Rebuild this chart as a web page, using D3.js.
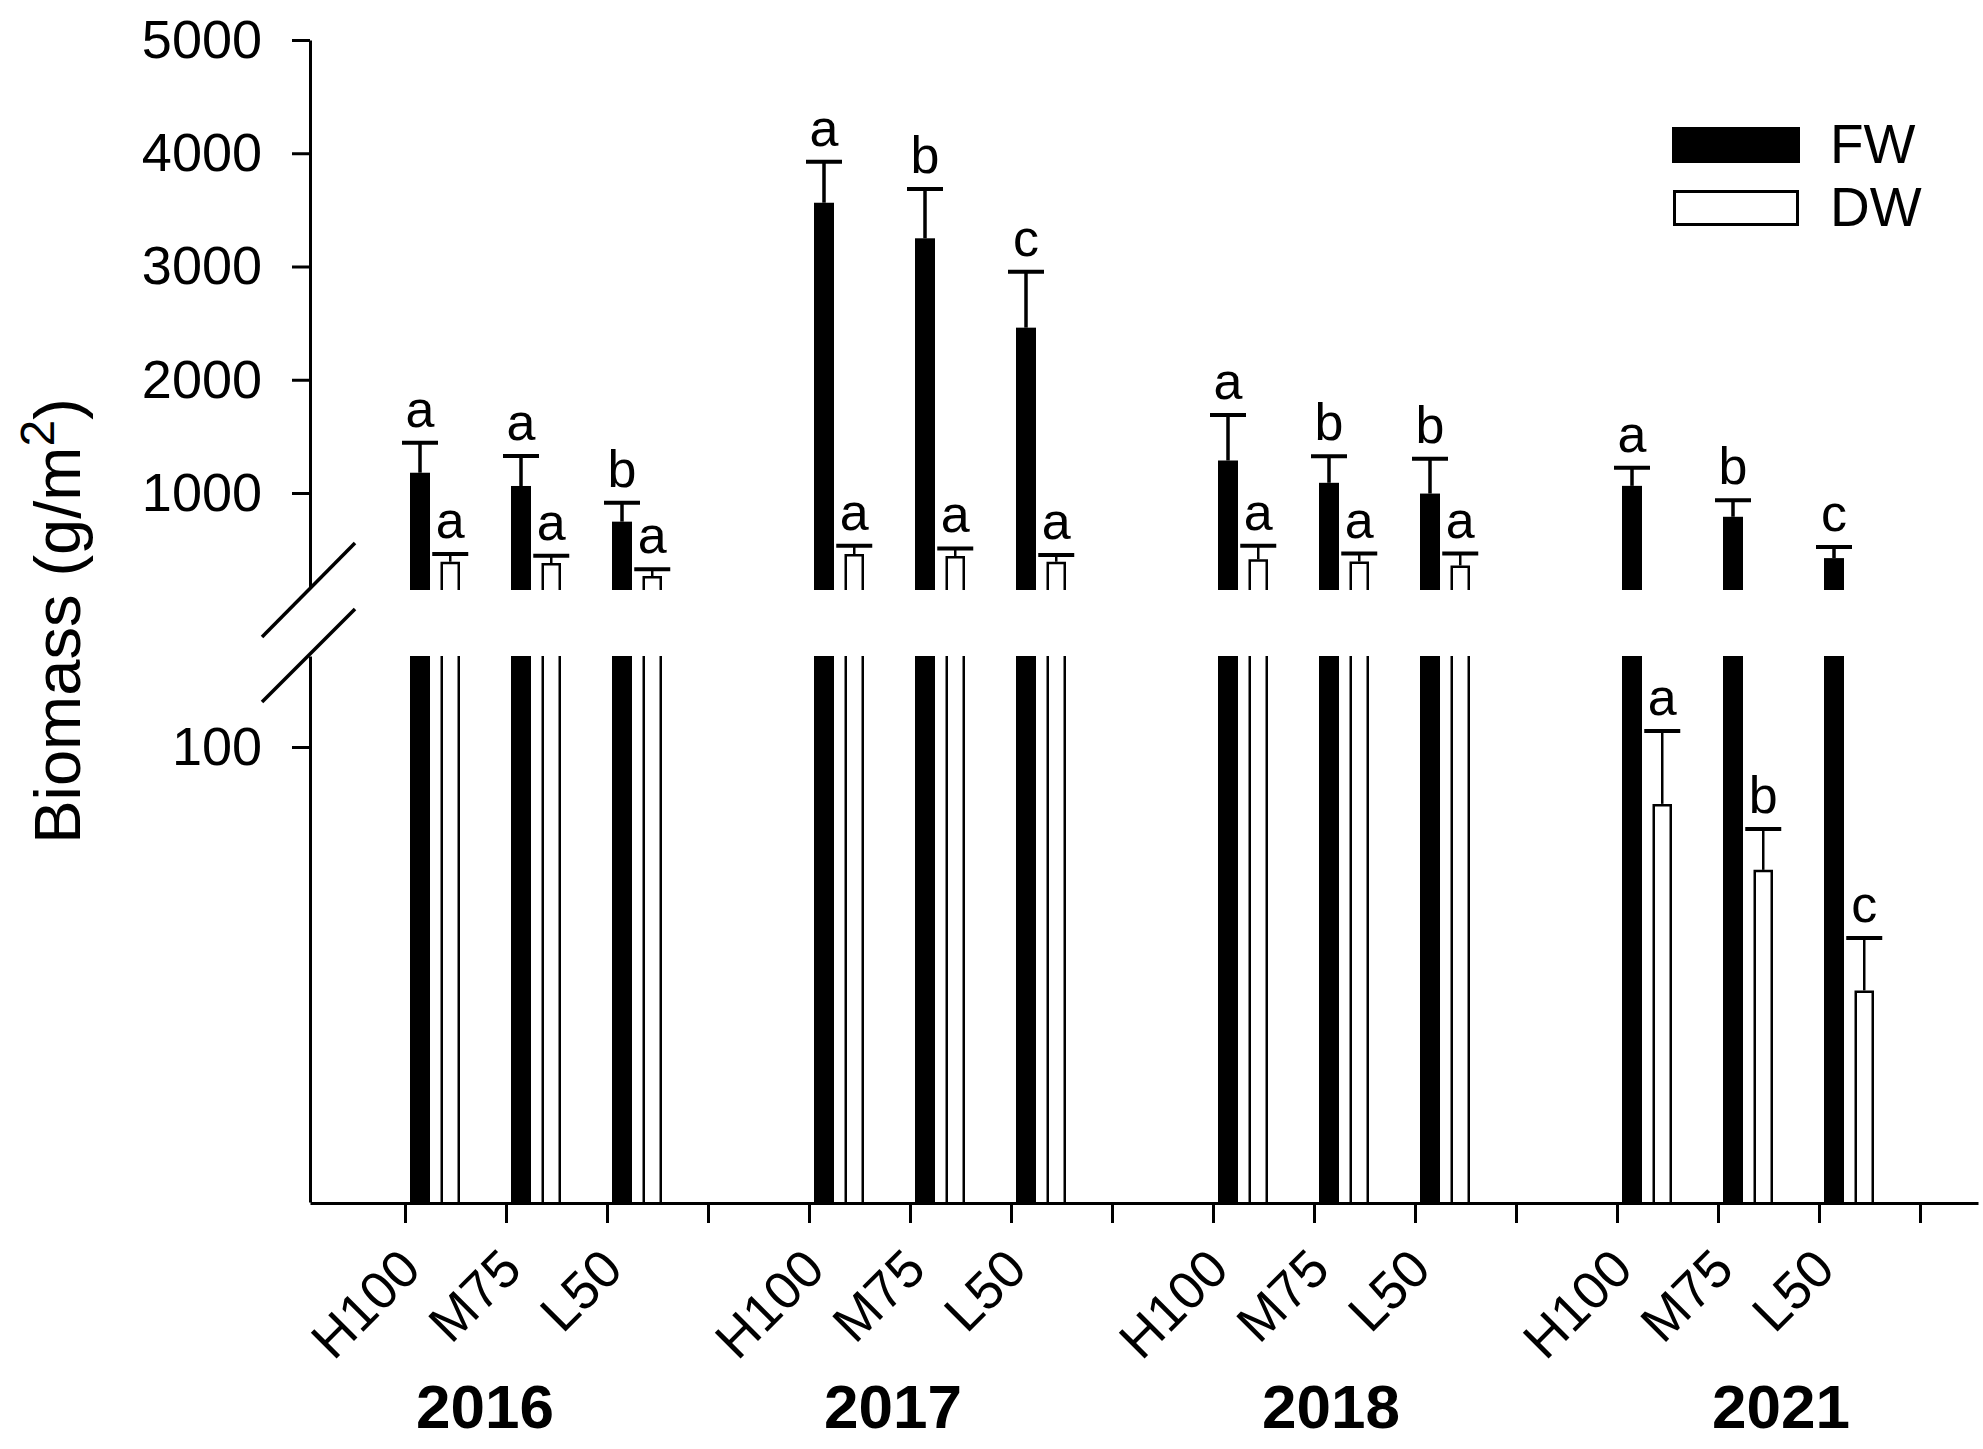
<!DOCTYPE html>
<html><head><meta charset="utf-8">
<script src="https://cdn.jsdelivr.net/npm/d3@7"></script>
<style>
body{margin:0;background:#fff}
svg{display:block}
text{font-family:"Liberation Sans",Arial,sans-serif;fill:#000}
</style>
</head><body>
<svg id="c" width="1983" height="1449"></svg>
<script>
// ---------------- data ----------------
const years = ["2016","2017","2018","2021"];
const treatments = ["H100","M75","L50"];
const seriesNames = ["FW","DW"];
const fwMean = [[1179,1062,747],[3563,3249,2460],[1287,1090,995],[1063,790,425]];
const fwErr  = [[265,265,168],[363,435,494],[402,234,308],[160,145,98]];
const dwMean = [[393,382,267],[461,444,393],[415,395,360],[87.5,73,46.5]];
const dwErr  = [[68,65,59],[74,67,60],[120,70,105],[16,9,11.5]];
const fwLetters = [["a","a","b"],["a","b","c"],["a","b","b"],["a","b","c"]];
const dwLetters = [["a","a","a"],["a","a","a"],["a","a","a"],["a","b","c"]];
const upperTicks = [1000,2000,3000,4000,5000];
const lowerTicks = [100];
const upperDomain = [170,5000];
const lowerDomain = [0,120];

// ---------------- layout ----------------
const svg = d3.select("#c");
const FONT = '"Liberation Sans",Arial,sans-serif';
const x = d3.scaleLinear().domain([1 - 95/101, 16 + 58/101]).range([310,1978]);
const yU = d3.scaleLinear().domain(upperDomain).range([587,40]);
const yL = d3.scaleLinear().domain(lowerDomain).range([1202,656]);
const UPPER_BOTTOM = 590, LOWER_TOP = 656, LOWER_BOTTOM = 1202;

// y axes
function styleAxis(g, fs){
  g.select(".domain").attr("stroke","#000").attr("stroke-width",3);
  g.selectAll(".tick line").attr("stroke","#000").attr("stroke-width",3);
  g.selectAll(".tick text").attr("font-size",fs).attr("font-family",FONT).attr("fill","#000");
}
svg.append("g").attr("transform","translate(310,0)")
  .call(d3.axisLeft(yU).tickValues(upperTicks).tickSize(18).tickSizeOuter(0).tickPadding(30).tickFormat(d3.format("d")))
  .call(g=>styleAxis(g,54));
svg.append("g").attr("transform","translate(310,0)")
  .call(d3.axisLeft(yL).tickValues(lowerTicks).tickSize(18).tickSizeOuter(0).tickPadding(30).tickFormat(d3.format("d")))
  .call(g=>styleAxis(g,54));

// x axis
const tickPos = d3.range(1,17);
svg.append("g").attr("transform","translate(0,1203)")
  .call(d3.axisBottom(x).tickValues(tickPos).tickSize(20).tickSizeOuter(0).tickFormat(""))
  .call(g=>styleAxis(g,52));

// break marks
[[637,543],[702,609]].forEach(([a,b])=>{
  svg.append("line").attr("x1",262).attr("y1",a).attr("x2",355).attr("y2",b)
    .attr("stroke","#000").attr("stroke-width",3.5);
});

// bars
const FW_OFF = 5, FW_W = 20, DW_OFF = 35.5, DW_W = 19.5, CAP = 18;
const gBars = svg.append("g");
function drawBar(x0, w, v, err, letter, filled){
  const cx = x0 + w/2;
  let topY, capY;
  if (v > lowerDomain[1]) {
    topY = yU(v); capY = yU(v + err);
    if (filled) {
      gBars.append("rect").attr("x",x0).attr("y",LOWER_TOP).attr("width",w).attr("height",LOWER_BOTTOM-LOWER_TOP).attr("fill","#000");
      gBars.append("rect").attr("x",x0).attr("y",topY).attr("width",w).attr("height",UPPER_BOTTOM-topY).attr("fill","#000");
    } else {
      gBars.append("path").attr("d",`M${x0+1.25},${LOWER_BOTTOM}V${LOWER_TOP}M${x0+w-1.25},${LOWER_TOP}V${LOWER_BOTTOM}`)
        .attr("stroke","#000").attr("stroke-width",2.5).attr("fill","none");
      gBars.append("path").attr("d",`M${x0+1.25},${UPPER_BOTTOM}V${topY+1.25}H${x0+w-1.25}V${UPPER_BOTTOM}`)
        .attr("stroke","#000").attr("stroke-width",2.5).attr("fill","#fff");
    }
  } else {
    topY = yL(v); capY = yL(v + err);
    if (filled) {
      gBars.append("rect").attr("x",x0).attr("y",topY).attr("width",w).attr("height",LOWER_BOTTOM-topY).attr("fill","#000");
    } else {
      gBars.append("path").attr("d",`M${x0+1.25},${LOWER_BOTTOM}V${topY+1.25}H${x0+w-1.25}V${LOWER_BOTTOM}`)
        .attr("stroke","#000").attr("stroke-width",2.5).attr("fill","#fff");
    }
  }
  gBars.append("line").attr("x1",cx).attr("x2",cx).attr("y1",topY).attr("y2",capY)
    .attr("stroke","#000").attr("stroke-width",filled?3.5:2.5);
  gBars.append("line").attr("x1",cx-CAP).attr("x2",cx+CAP).attr("y1",capY).attr("y2",capY)
    .attr("stroke","#000").attr("stroke-width",4);
  gBars.append("text").attr("x",cx).attr("y",capY-16).attr("text-anchor","middle")
    .attr("font-size",52).text(letter);
}
years.forEach((yr,i)=>{
  treatments.forEach((t,j)=>{
    const p = i*4 + j + 1;
    drawBar(x(p)+FW_OFF, FW_W, fwMean[i][j], fwErr[i][j], fwLetters[i][j], true);
    drawBar(x(p)+DW_OFF, DW_W, dwMean[i][j], dwErr[i][j], dwLetters[i][j], false);
  });
});

// x category labels (rotated)
years.forEach((yr,i)=>{
  treatments.forEach((t,j)=>{
    const p = i*4 + j + 1;
    svg.append("text").attr("transform",`translate(${x(p)+18},1272) rotate(-45)`)
      .attr("text-anchor","end").attr("font-size",53).text(t);
  });
});
// year labels
const yearNudge = [-21,-17,17,63];
years.forEach((yr,i)=>{
  svg.append("text").attr("x",x(i*4+2)+yearNudge[i]).attr("y",1428)
    .attr("text-anchor","middle").attr("font-size",62).attr("font-weight","bold").text(yr);
});

// y title
const title = svg.append("text").attr("transform","translate(80,621) rotate(-90)")
  .attr("text-anchor","middle").attr("font-size",65);
title.append("tspan").text("Biomass (g/m");
title.append("tspan").attr("font-size",48).attr("dy",-26).text("2");
title.append("tspan").attr("dy",26).text(")");

// legend
const legend = svg.append("g");
seriesNames.forEach((s,k)=>{
  const yy = 127 + k*63;
  if (k===0) legend.append("rect").attr("x",1672).attr("y",yy).attr("width",128).attr("height",36).attr("fill","#000");
  else legend.append("rect").attr("x",1674.5).attr("y",yy+1.5).attr("width",123).attr("height",33).attr("fill","#fff").attr("stroke","#000").attr("stroke-width",3);
  legend.append("text").attr("x",1830).attr("y",yy+36).attr("font-size",55).text(s);
});
</script>
</body></html>
